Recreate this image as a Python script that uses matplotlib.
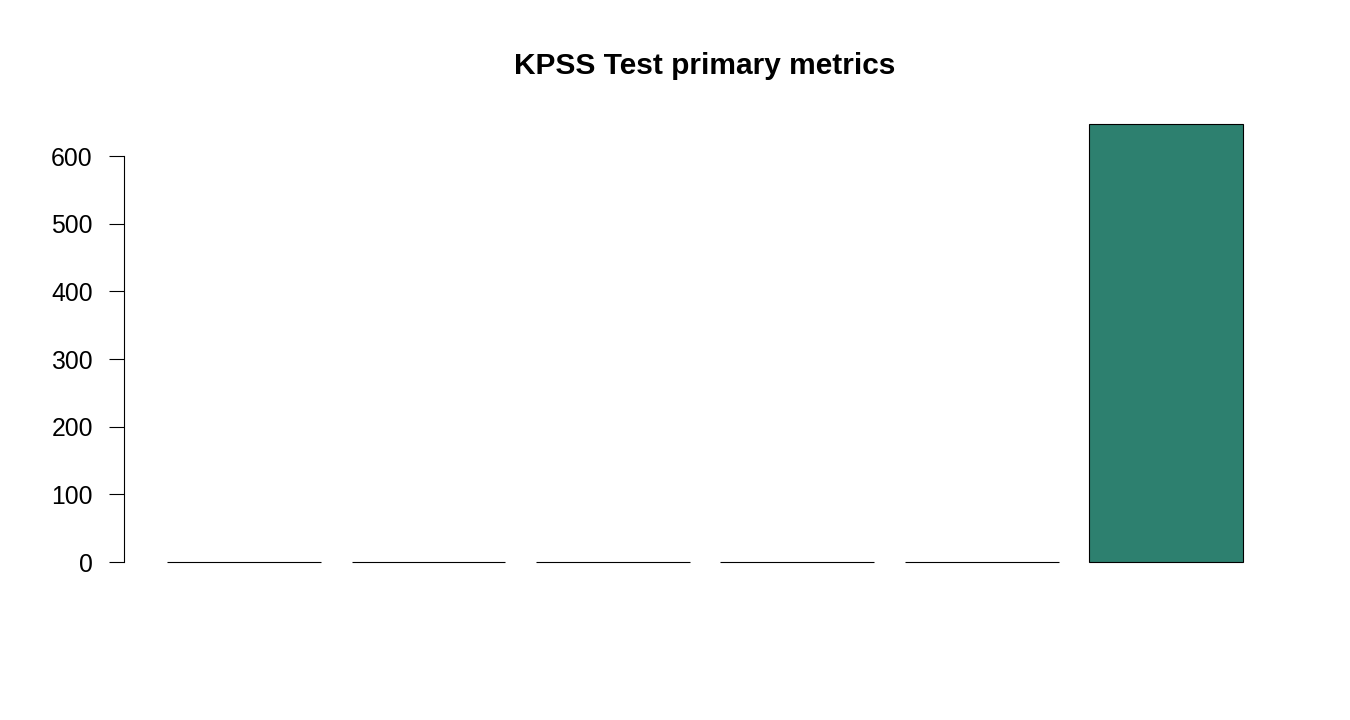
import matplotlib
matplotlib.use("Agg")
import matplotlib.pyplot as plt
import numpy as np

# values (first five are ~0 at this scale)
metrics = ["statistic", "p.value", "lag", "crit.10", "crit.5", "n"]
values = [0.35, 0.1, 0.6, 0.35, 0.46, 647.5]
yticks = [0, 100, 200, 300, 400, 500, 600]

bar_color = "#2D806F"

plt.rcParams["font.family"] = ["Liberation Sans", "DejaVu Sans"]

fig = plt.figure(figsize=(13.5, 7.2), dpi=100)
ax = fig.add_axes([0.0919, 0.1951, 0.8607, 0.6569])

# R barplot geometry: width 1, space 0.2
lefts = 0.2 + 1.2 * np.arange(len(values))
ax.bar(lefts, values, width=1.0, align="edge", color=bar_color,
       edgecolor="black", linewidth=0.8)

span = lefts[-1] + 1.0 - lefts[0]
ax.set_xlim(lefts[0] - 0.04 * span, lefts[-1] + 1.0 + 0.04 * span)
top = max(values)
ax.set_ylim(-0.04 * top, top * 1.04)

for s in ["top", "right", "bottom"]:
    ax.spines[s].set_visible(False)
ax.spines["left"].set_bounds(0, 600)
ax.spines["left"].set_linewidth(0.8)
ax.set_xticks([])
ax.set_yticks(yticks)
ax.tick_params(axis="y", length=11, width=0.8, pad=11.5, labelsize=17.8)

ax.set_title("KPSS Test primary metrics", fontsize=21.5, fontweight="bold", pad=23.5)

fig.savefig("out.png", dpi=100)
